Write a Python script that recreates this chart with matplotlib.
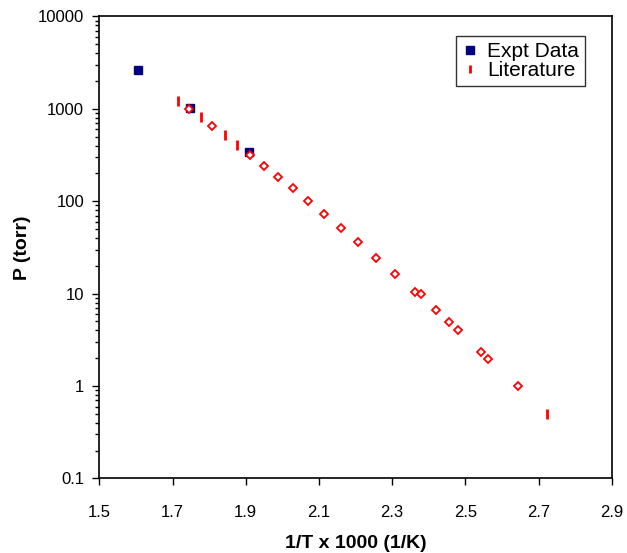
import matplotlib
matplotlib.use("Agg")
import matplotlib.pyplot as plt
from matplotlib.ticker import LogLocator, FixedLocator, NullFormatter, FuncFormatter

plt.rcParams['font.family'] = ['Liberation Sans', 'DejaVu Sans']

# Experimental data (navy squares)
expt_x = [1.607, 1.748, 1.909]
expt_p = [2640, 1030, 339]

# Literature data (red dash markers)
lit_x = [1.716, 1.777, 1.843, 1.877, 2.724]
lit_p = [1228, 811, 518, 406, 0.495]

# Literature data (red open diamonds, not in legend)
dia_x = [1.746, 1.807, 1.912, 1.949, 1.988, 2.028, 2.070, 2.113, 2.159, 2.207,
         2.257, 2.309, 2.363, 2.378, 2.420, 2.456, 2.481, 2.543, 2.563, 2.644]
dia_p = [1000, 653, 315, 241, 184.5, 138, 100.7, 73, 51.4, 36,
         24.3, 16.2, 10.4, 9.85, 6.6, 4.94, 4.02, 2.36, 1.98, 1.0]

x_ticks = [1.5, 1.7, 1.9, 2.1, 2.3, 2.5, 2.7, 2.9]
y_ticks = [0.1, 1, 10, 100, 1000, 10000]
y_tick_labels = ['0.1', '1', '10', '100', '1000', '10000']

fig = plt.figure(figsize=(6.27, 5.53), dpi=100)
ax = fig.add_axes([0.1584, 0.1349, 0.8172, 0.8353])

ax.plot(dia_x, dia_p, linestyle='none', marker='D', markersize=4,
        markerfacecolor='white', markeredgecolor='#FF0000', markeredgewidth=1.3,
        zorder=3)
ax.plot(expt_x, expt_p, linestyle='none', marker='s', markersize=6,
        color='#000080', label='Expt Data', zorder=2)
ax.plot(lit_x, lit_p, linestyle='none', marker='|', markersize=7,
        markeredgewidth=2, color='#FF0000', label='Literature', zorder=4)

ax.set_yscale('log')
ax.set_xlim(1.5, 2.9)
ax.set_ylim(0.1, 10000)
ax.xaxis.set_major_locator(FixedLocator(x_ticks))
ax.set_xticklabels([f'{v:.1f}' for v in x_ticks])
ax.yaxis.set_major_locator(FixedLocator(y_ticks))
ax.yaxis.set_major_formatter(FuncFormatter(lambda v, p: y_tick_labels[y_ticks.index(v)] if v in y_ticks else ''))
ax.yaxis.set_minor_locator(LogLocator(base=10, subs=range(2, 10), numticks=20))
ax.yaxis.set_minor_formatter(NullFormatter())

ax.tick_params(axis='both', which='major', direction='out', length=5, width=1,
               labelsize=12, colors='black')
ax.tick_params(axis='y', which='minor', direction='out', length=3, width=1)
ax.tick_params(axis='x', pad=14)
ax.tick_params(axis='y', pad=6)

for s in ax.spines.values():
    s.set_linewidth(1.2)
    s.set_color('black')

ax.set_xlabel('1/T x 1000 (1/K)', fontsize=14, fontweight='bold', labelpad=11)
ax.set_ylabel('P (torr)', fontsize=14, fontweight='bold', labelpad=5)

leg = ax.legend(loc='upper right', bbox_to_anchor=(0.948, 0.958), fontsize=15,
                frameon=True, fancybox=False, shadow=False, handlelength=0.8,
                handletextpad=0.4, borderpad=0.3, labelspacing=0.0,
                borderaxespad=0.0, markerscale=0.9)
leg.get_frame().set_edgecolor('black')
leg.get_frame().set_linewidth(1.0)

fig.savefig('out.png', dpi=100)
